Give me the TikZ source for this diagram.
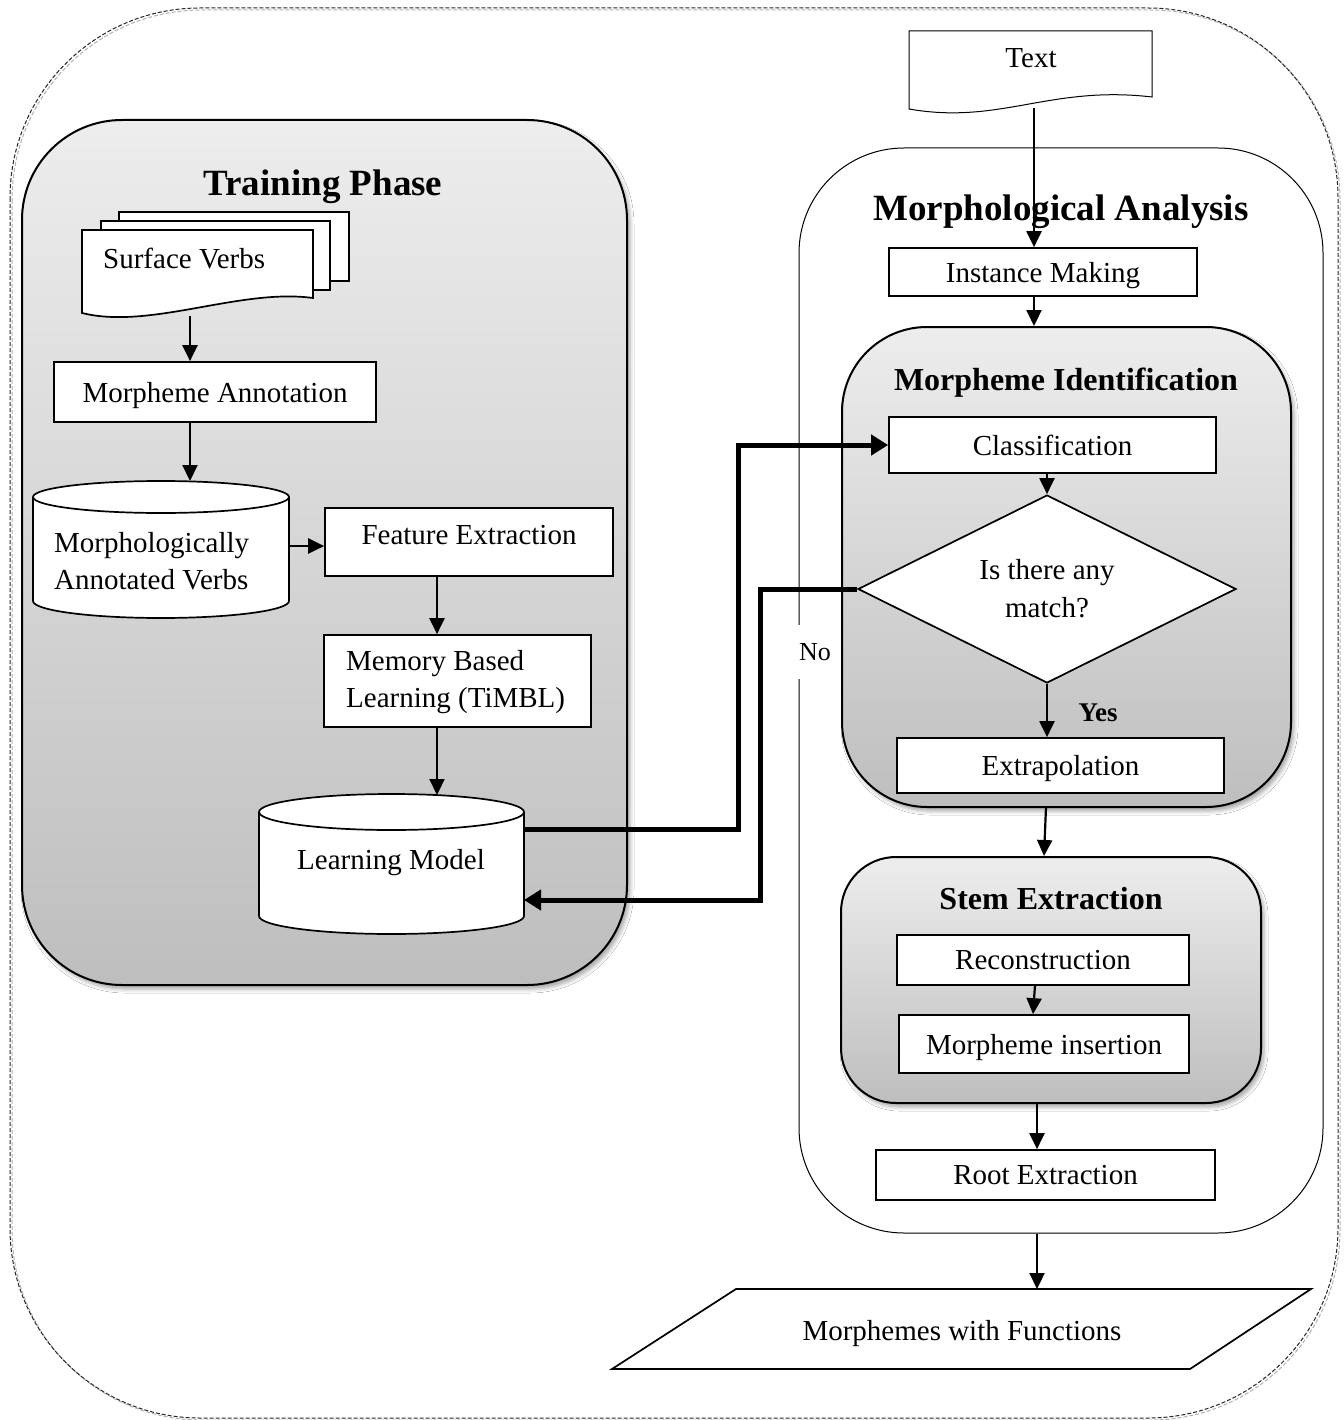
\documentclass[tikz,border=0pt]{standalone}
\usepackage{fontspec}
\setmainfont{Liberation Serif}
\usetikzlibrary{arrows.meta,shapes.geometric,shadows.blur}
\definecolor{grtop}{HTML}{EDEDED}
\definecolor{grbot}{HTML}{BEBEBE}
\begin{document}
\begin{tikzpicture}[x=1pt,y=-1pt]
\tikzset{
  txt/.style={font=\fontsize{29}{37}\selectfont, inner sep=0pt},
  oneline/.style={text depth=0pt},
  ttl/.style={font=\fontsize{37}{42}\selectfont\bfseries, inner sep=0pt, oneline},
  subttl/.style={font=\fontsize{32}{38}\selectfont\bfseries, inner sep=0pt, oneline},
  procbox/.style={draw, line width=1.7pt, fill=white, inner sep=0pt, oneline,
    font=\fontsize{29}{37}\selectfont},
  grpbox/.style={draw, line width=2pt, top color=grtop, bottom color=grbot,
    blur shadow={shadow xshift=3pt, shadow yshift=-4pt, shadow blur radius=4pt,
    shadow opacity=35}},
  outline/.style={line width=1.7pt, fill=white},
  arr/.style={line width=2.2pt, -{Triangle[length=16pt,width=15pt]}},
  thickarr/.style={line width=5pt, -{Triangle[length=17pt,width=20pt]}},
  frame/.style={line width=1pt, dash pattern=on 4pt off 2pt, rounded corners=190pt},
}
% page
\fill[white] (0,0) rectangle (1343,1420);
\useasboundingbox (0,0) rectangle (1343,1420);

% outer dashed frame with its grey shadow
\draw[frame, black!30] (12,10) rectangle (1340,1420);
\draw[frame, black!85] (10,8) rectangle (1338,1418);

% ---------------- training phase ----------------
\node[grpbox, rounded corners=100pt, minimum width=605, minimum height=865] (tp) at (324.5,552.5) {};
\node[ttl] (tpt) at (323,183) {Training Phase};

% stacked documents
\draw[outline] (119,212) rectangle (349,281);
\draw[outline] (101,221) rectangle (330,290);
\draw[outline] (82,230) -- (313,230) -- (313,298) .. controls (240,288) and (150,330) .. (82,313) -- cycle;
\node[txt, oneline, anchor=west] (svt) at (103,258) {Surface Verbs};
\coordinate (sv) at (190,316);

\node[procbox, minimum width=322, minimum height=60] (ma) at (215,392) {Morpheme Annotation};

% annotated verbs store
\draw[outline] (33,497) -- (33,601) arc[start angle=180, end angle=360, x radius=128pt, y radius=17pt]
  -- (289,497) arc[start angle=0, end angle=180, x radius=128pt, y radius=16pt] -- cycle;
\draw[line width=1.7pt] (33,497) arc[start angle=180, end angle=360, x radius=128pt, y radius=16pt];
\node[txt, anchor=west, align=left] (mavt) at (54,561) {Morphologically\\Annotated Verbs};
\coordinate (mavin) at (190,481);
\coordinate (mavout) at (289,546);

\node[procbox, minimum width=288, minimum height=68] (fe) at (469,542) {};
\node[txt, oneline] (fet) at (469,535) {Feature Extraction};
\coordinate (fex) at (437,576);

\node[procbox, minimum width=267, minimum height=92] (mbl) at (457.5,681) {};
\node[txt, anchor=west, align=left] (mblt) at (346,682) {Memory Based\\Learning (TiMBL)};

% learning model store
\draw[outline] (259,812) -- (259,916) arc[start angle=180, end angle=360, x radius=132.5pt, y radius=18pt]
  -- (524,812) arc[start angle=0, end angle=180, x radius=132.5pt, y radius=18pt] -- cycle;
\draw[line width=1.7pt] (259,812) arc[start angle=180, end angle=360, x radius=132.5pt, y radius=18pt];
\node[txt, oneline] (lmt) at (391,859) {Learning Model};
\coordinate (lmin) at (437,795);
\coordinate (lmout) at (524,829);
\coordinate (lmback) at (524,900);

% ---------------- morphological analysis ----------------
\node[draw, line width=1pt, fill=white, rounded corners=105pt, minimum width=524, minimum height=1085] (mac) at (1061,690.5) {};
\node[txt, font=\fontsize{26}{30}\selectfont, fill=white, inner xsep=6pt, inner ysep=18pt] (no) at (815,652) {No};

% input text document
\draw[line width=1pt, fill=white] (909,31) -- (1152,31) -- (1152,97) .. controls (1050,85) and (1000,125) .. (909,109) -- cycle;
\node[txt, oneline] (txtt) at (1031,58) {Text};
\coordinate (txtout) at (1034,108);

\node[ttl] (mact) at (1061,208) {Morphological Analysis};
\node[procbox, minimum width=308, minimum height=48] (im) at (1043,272) {Instance Making};

% morpheme identification
\node[grpbox, rounded corners=85pt, minimum width=449, minimum height=480] (mi) at (1066.5,567) {};
\node[subttl] (mit) at (1066,379) {Morpheme Identification};
\node[procbox, minimum width=327, minimum height=56] (cls) at (1052.5,445) {Classification};
\node[draw, line width=1.7pt, fill=white, diamond, aspect=2, minimum width=378, minimum height=188,
  inner sep=0pt, align=center, font=\fontsize{29}{38}\selectfont] (dia) at (1047,589) {Is there any\\match?};
\node[font=\fontsize{27}{32}\selectfont\bfseries, inner sep=0pt, oneline] (yes) at (1098,713) {Yes};
\node[procbox, minimum width=327, minimum height=55] (ext) at (1060.5,765.5) {Extrapolation};

% stem extraction
\node[grpbox, rounded corners=55pt, minimum width=420, minimum height=246] (se) at (1051,980) {};
\node[subttl] (set) at (1051,898) {Stem Extraction};
\node[procbox, minimum width=292, minimum height=50] (rec) at (1043,960) {Reconstruction};
\node[procbox, minimum width=290, minimum height=58] (mins) at (1044,1044) {Morpheme insertion};

\node[procbox, minimum width=339, minimum height=50] (root) at (1045.5,1175) {Root Extraction};

% output
\draw[outline] (736,1289) -- (1311,1289) -- (1190,1369) -- (612,1369) -- cycle;
\node[txt, oneline] (mwf) at (962,1330) {Morphemes with Functions};
\coordinate (mwfin) at (1037,1289);

% ---------------- connectors ----------------
\draw[arr] (sv) -- (sv |- ma.north);
\draw[arr] (ma.south -| sv) -- (mavin);
\draw[arr] (mavout) -- (fe.west |- mavout);
\draw[arr] (fex) -- (fex |- mbl.north);
\draw[arr] (mbl.south -| fex) -- (lmin);
\draw[thickarr] (lmout) -- ++(214,0) |- (cls.west);
\draw[thickarr] (dia.west) -- ++(-97,0) |- (lmback);

\draw[arr] (txtout) -- (txtout |- im.north);
\draw[arr] (im.south -| txtout) -- (mi.north -| txtout);
\draw[arr] (cls.south -| dia.north) -- (dia.north);
\draw[arr] (dia.south) -- (dia.south |- ext.north);
\draw[arr] (1046,807) -- (se.north -| 1044,0);
\draw[arr] (1035,985) -- (mins.north -| 1033,0);
\draw[arr] (se.south -| mwfin) -- (root.north -| mwfin);
\draw[arr] (mac.south -| mwfin) -- (mwfin);
\end{tikzpicture}
\end{document}
